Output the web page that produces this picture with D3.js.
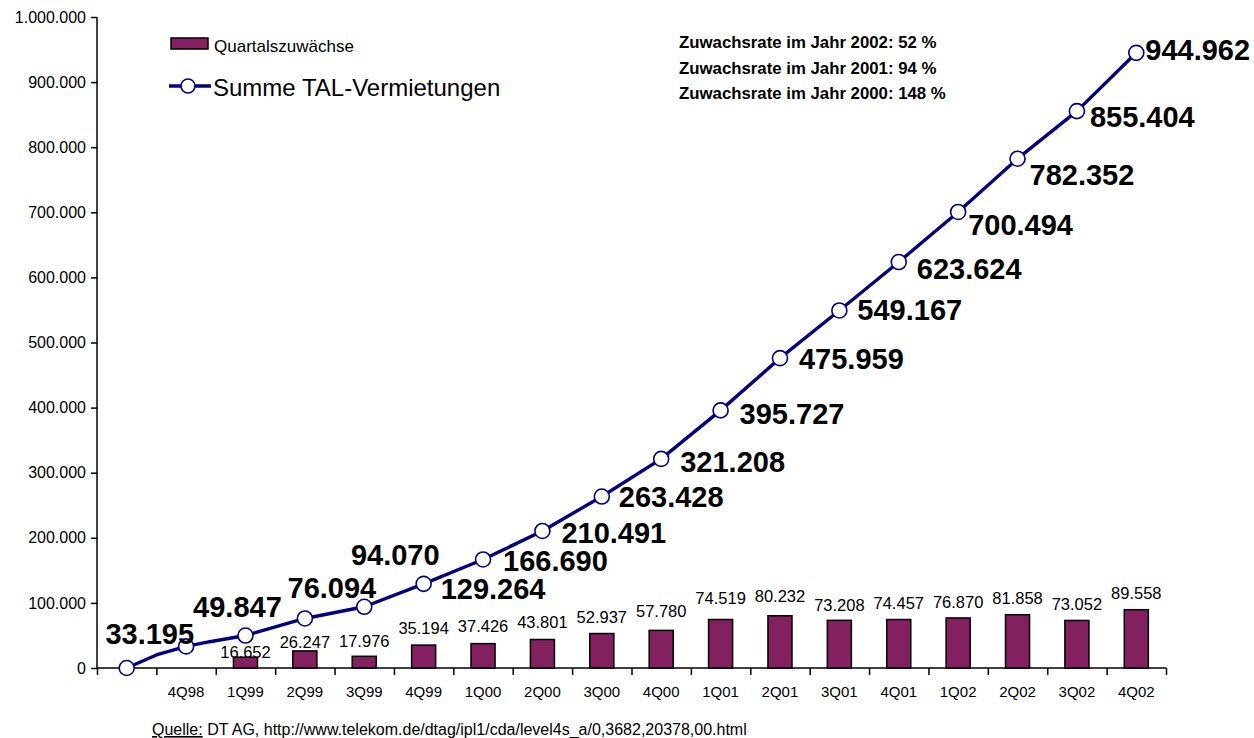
<!DOCTYPE html>
<html><head><meta charset="utf-8">
<script src="https://cdn.jsdelivr.net/npm/d3@7"></script>
<style>body{margin:0;background:#fff}svg{display:block;font-family:Arial,"Liberation Sans",sans-serif}</style>
</head><body><svg id="c" width="1254" height="738"></svg>
<script>
// ---- data ----
const categories = ["", "4Q98", "1Q99", "2Q99", "3Q99", "4Q99", "1Q00", "2Q00", "3Q00", "4Q00", "1Q01", "2Q01", "3Q01", "4Q01", "1Q02", "2Q02", "3Q02", "4Q02"];
const totals = [0, 33195, 49847, 76094, 94070, 129264, 166690, 210491, 263428, 321208, 395727, 475959, 549167, 623624, 700494, 782352, 855404, 944962];
const increments = [null, null, 16652, 26247, 17976, 35194, 37426, 43801, 52937, 57780, 74519, 80232, 73208, 74457, 76870, 81858, 73052, 89558];
// intermediate bends of the cumulative line: [fractional category index, value]
const lineBends = [[0.5, 20000], [1.4, 40400]];
const yTicks = [0, 100000, 200000, 300000, 400000, 500000, 600000, 700000, 800000, 900000, 1000000];
const notes = ["Zuwachsrate im Jahr 2002: 52 %", "Zuwachsrate im Jahr 2001: 94 %", "Zuwachsrate im Jahr 2000: 148 %"];
const seriesNames = ["Quartalszuwächse", "Summe TAL-Vermietungen"];
const sourceLabel = "Quelle:";
const sourceText = " DT AG, http://www.telekom.de/dtag/ipl1/cda/level4s_a/0,3682,20378,00.html";

// ---- label placement (styling, not data) ----
const totLblDx = [0, 8, -8, 27, 31, 17, 20, 19, 17, 19, 19, 19, 18, 18, 10, 12, 13, 9];
const totLblDy = [0, -2, -19, -20, -42, 15, 12, 12, 10, 13, 14, 11, 10, 17, 23, 26, 16, 7];
const totLblAnchor = ["", "end", "middle", "middle", "middle", "start", "start", "start", "start", "start", "start", "start", "start", "start", "start", "start", "start", "start"];
const barLblDy = [0, 0, 1, -3, -9, -11, -12, -11, -11, -13, -15, -14, -9, -11, -10, -11, -10, -11];

const de = d3.formatLocale({decimal: ",", thousands: ".", grouping: [3], currency: ["", "€"]});
const fmt = de.format(",d");

const svg = d3.select("#c");
const X0 = 97, X1 = 1166, YB = 668, YT = 17;
const x = d3.scaleBand().domain(d3.range(categories.length)).range([X0, X1]).padding(0);
const xPos = d3.scaleLinear().domain([0, categories.length]).range([X0, X1]); // continuous category position
const y = d3.scaleLinear().domain([0, 1000000]).range([YB, YT]);
const cx = i => xPos(i + 0.5);

// y axis
const yAxis = svg.append("g").attr("transform", `translate(${X0},0)`)
  .call(d3.axisLeft(y).tickValues(yTicks).tickFormat(d => fmt(d)).tickSize(6).tickPadding(5));
yAxis.select(".domain").attr("stroke", "#000").attr("stroke-width", 1.5).attr("d", `M0,${YT}V${YB}`);
yAxis.selectAll(".tick line").attr("stroke", "#000").attr("stroke-width", 1.5);
yAxis.selectAll(".tick text").attr("font-size", 16).attr("fill", "#000").attr("font-family", "Arial, 'Liberation Sans', sans-serif");

// x axis
const xAxis = svg.append("g").attr("transform", `translate(0,${YB})`)
  .call(d3.axisBottom(xPos).tickValues(d3.range(categories.length + 1)).tickFormat("").tickSize(7));
xAxis.select(".domain").attr("stroke", "#000").attr("stroke-width", 1.5).attr("d", `M${X0},0H${X1}`);
xAxis.selectAll(".tick line").attr("stroke", "#000").attr("stroke-width", 1.5);
svg.append("g").selectAll("text").data(categories).join("text")
  .attr("x", (d, i) => cx(i)).attr("y", 697).attr("text-anchor", "middle")
  .attr("font-size", 15).attr("fill", "#000").text(d => d);

// bars
const barW = x.bandwidth() * 0.405;
const barData = increments.map((v, i) => ({v, i})).filter(d => d.v != null);
svg.append("g").selectAll("rect").data(barData).join("rect")
  .attr("x", d => cx(d.i) - barW / 2).attr("width", barW)
  .attr("y", d => y(d.v)).attr("height", d => y(0) - y(d.v))
  .attr("fill", "#822060").attr("stroke", "#000").attr("stroke-width", 1.5);
svg.append("g").selectAll("text").data(barData).join("text")
  .attr("x", d => cx(d.i)).attr("y", d => y(d.v) + barLblDy[d.i])
  .attr("text-anchor", "middle").attr("font-size", 16.5).attr("fill", "#000")
  .text(d => fmt(d.v));

// cumulative line
const linePts = totals.map((v, i) => [i, v]).concat(lineBends.map(b => [b[0], b[1]])).sort((a, b) => a[0] - b[0]);
svg.append("path").datum(linePts)
  .attr("d", d3.line().x(d => cx(d[0])).y(d => y(d[1])))
  .attr("fill", "none").attr("stroke", "#000080").attr("stroke-width", 3.4).attr("stroke-linejoin", "round");
svg.append("g").selectAll("circle").data(totals).join("circle")
  .attr("cx", (d, i) => cx(i)).attr("cy", d => y(d)).attr("r", 7.5)
  .attr("fill", "#fff").attr("stroke", "#000080").attr("stroke-width", 1.6);
svg.append("g").selectAll("text").data(totals.map((v, i) => ({v, i})).filter(d => d.i > 0)).join("text")
  .attr("x", d => cx(d.i) + totLblDx[d.i]).attr("y", d => y(d.v) + totLblDy[d.i])
  .attr("text-anchor", d => totLblAnchor[d.i])
  .attr("font-size", 29).attr("font-weight", "bold").attr("fill", "#000")
  .text(d => fmt(d.v));

// legend
const lg = svg.append("g");
lg.append("rect").attr("x", 171).attr("y", 38).attr("width", 37).attr("height", 11)
  .attr("fill", "#822060").attr("stroke", "#000").attr("stroke-width", 1.5);
lg.append("text").attr("x", 214).attr("y", 52).attr("font-size", 17).attr("fill", "#000").text(seriesNames[0]);
lg.append("line").attr("x1", 169).attr("x2", 211).attr("y1", 86).attr("y2", 86)
  .attr("stroke", "#000080").attr("stroke-width", 3.4);
lg.append("circle").attr("cx", 188).attr("cy", 86).attr("r", 7).attr("fill", "#fff").attr("stroke", "#000080").attr("stroke-width", 1.6);
lg.append("text").attr("x", 213).attr("y", 96).attr("font-size", 24).attr("fill", "#000").text(seriesNames[1]);

// notes
svg.append("g").selectAll("text").data(notes).join("text")
  .attr("x", 679).attr("y", (d, i) => 48 + i * 25.5)
  .attr("font-size", 16.8).attr("font-weight", "bold").attr("fill", "#000").text(d => d);

// source
const src = svg.append("text").attr("x", 152).attr("y", 735).attr("font-size", 16).attr("fill", "#000");
src.append("tspan").attr("text-decoration", "underline").text(sourceLabel);
src.append("tspan").text(sourceText);
</script></body></html>
